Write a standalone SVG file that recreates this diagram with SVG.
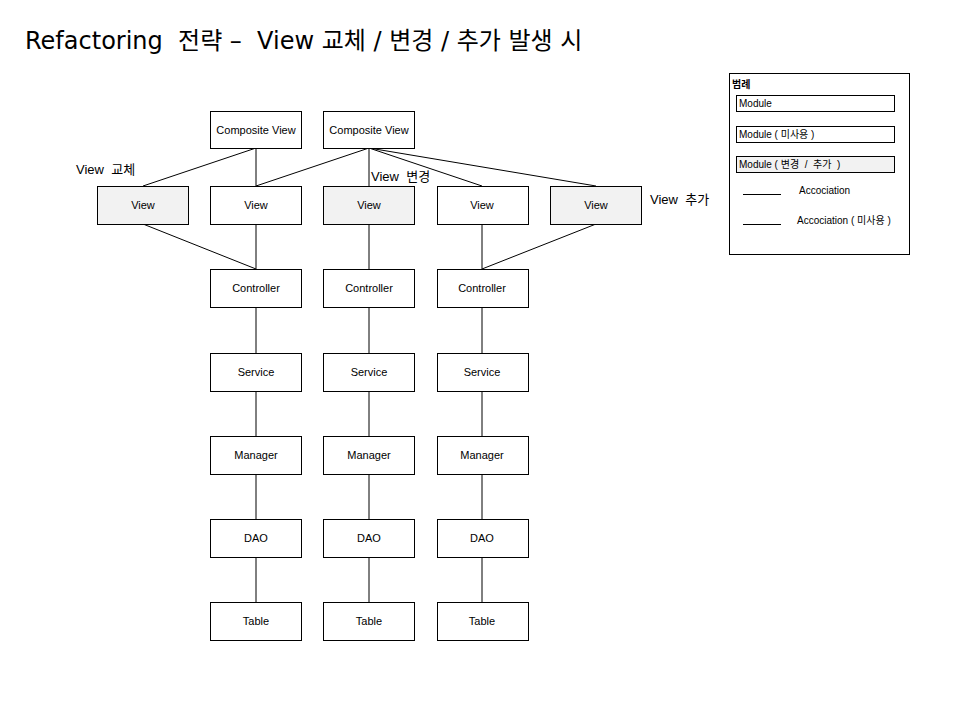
<svg xmlns="http://www.w3.org/2000/svg" width="960" height="720" viewBox="0 0 960 720">
<style>
text{white-space:pre}
.n rect{fill:#fff;stroke:#000;stroke-width:1}
.g rect{fill:#f2f2f2}
.n text{font-family:"Liberation Sans",Arial,sans-serif;font-size:11px;text-anchor:middle;fill:#000}
.lbl{font-family:"Liberation Sans","Noto Sans CJK KR",sans-serif;font-size:13px;fill:#000}
.c line{stroke:#000;stroke-width:1}
.lg{font-family:"Liberation Sans","Noto Sans CJK KR",sans-serif;font-size:10px;fill:#000}
</style>
<rect width="960" height="720" fill="#fff"/>
<text x="25" y="49" font-family="'DejaVu Sans','Noto Sans CJK KR',sans-serif" font-size="24" fill="#000">Refactoring &#160;전략 – &#160;View 교체 / 변경 / 추가 발생 시</text>
<g class="c">
<line x1="256" y1="148" x2="143" y2="186"/>
<line x1="256" y1="148" x2="256" y2="186"/>
<line x1="369" y1="148" x2="256" y2="186"/>
<line x1="369" y1="148" x2="369" y2="186"/>
<line x1="369" y1="148" x2="482" y2="186"/>
<line x1="369" y1="148" x2="596" y2="186"/>
<line x1="143" y1="224" x2="256" y2="269"/>
<line x1="256" y1="224" x2="256" y2="269"/>
<line x1="369" y1="224" x2="369" y2="269"/>
<line x1="482" y1="224" x2="482" y2="269"/>
<line x1="596" y1="224" x2="482" y2="269"/>
<line x1="256" y1="307" x2="256" y2="353"/>
<line x1="369" y1="307" x2="369" y2="353"/>
<line x1="482" y1="307" x2="482" y2="353"/>
<line x1="256" y1="391" x2="256" y2="436"/>
<line x1="369" y1="391" x2="369" y2="436"/>
<line x1="482" y1="391" x2="482" y2="436"/>
<line x1="256" y1="474" x2="256" y2="519"/>
<line x1="369" y1="474" x2="369" y2="519"/>
<line x1="482" y1="474" x2="482" y2="519"/>
<line x1="256" y1="557" x2="256" y2="602"/>
<line x1="369" y1="557" x2="369" y2="602"/>
<line x1="482" y1="557" x2="482" y2="602"/>
</g>
<g id="cv1" class="n"><rect x="210.5" y="111.5" width="91" height="37"/><text x="256" y="134">Composite View</text></g>
<g id="cv2" class="n"><rect x="323.5" y="111.5" width="91" height="37"/><text x="369" y="134">Composite View</text></g>
<g id="v1" class="n g"><rect x="97.5" y="186.5" width="91" height="38"/><text x="143" y="209">View</text></g>
<g id="v2" class="n"><rect x="210.5" y="186.5" width="91" height="38"/><text x="256" y="209">View</text></g>
<g id="v3" class="n g"><rect x="323.5" y="186.5" width="91" height="38"/><text x="369" y="209">View</text></g>
<g id="v4" class="n"><rect x="437.5" y="186.5" width="91" height="38"/><text x="482" y="209">View</text></g>
<g id="v5" class="n g"><rect x="550.5" y="186.5" width="91" height="38"/><text x="596" y="209">View</text></g>
<g id="c1" class="n"><rect x="210.5" y="269.5" width="91" height="38"/><text x="256" y="292">Controller</text></g>
<g id="c2" class="n"><rect x="323.5" y="269.5" width="91" height="38"/><text x="369" y="292">Controller</text></g>
<g id="c3" class="n"><rect x="437.5" y="269.5" width="91" height="38"/><text x="482" y="292">Controller</text></g>
<g id="s1" class="n"><rect x="210.5" y="353.5" width="91" height="38"/><text x="256" y="376">Service</text></g>
<g id="s2" class="n"><rect x="323.5" y="353.5" width="91" height="38"/><text x="369" y="376">Service</text></g>
<g id="s3" class="n"><rect x="437.5" y="353.5" width="91" height="38"/><text x="482" y="376">Service</text></g>
<g id="m1" class="n"><rect x="210.5" y="436.5" width="91" height="38"/><text x="256" y="459">Manager</text></g>
<g id="m2" class="n"><rect x="323.5" y="436.5" width="91" height="38"/><text x="369" y="459">Manager</text></g>
<g id="m3" class="n"><rect x="437.5" y="436.5" width="91" height="38"/><text x="482" y="459">Manager</text></g>
<g id="d1" class="n"><rect x="210.5" y="519.5" width="91" height="38"/><text x="256" y="542">DAO</text></g>
<g id="d2" class="n"><rect x="323.5" y="519.5" width="91" height="38"/><text x="369" y="542">DAO</text></g>
<g id="d3" class="n"><rect x="437.5" y="519.5" width="91" height="38"/><text x="482" y="542">DAO</text></g>
<g id="t1" class="n"><rect x="210.5" y="602.5" width="91" height="38"/><text x="256" y="625">Table</text></g>
<g id="t2" class="n"><rect x="323.5" y="602.5" width="91" height="38"/><text x="369" y="625">Table</text></g>
<g id="t3" class="n"><rect x="437.5" y="602.5" width="91" height="38"/><text x="482" y="625">Table</text></g>
<text class="lbl" x="76" y="174">View &#160;교체</text>
<text class="lbl" x="371" y="181">View &#160;변경</text>
<text class="lbl" x="650" y="204">View &#160;추가</text>
<g id="legend">
<rect x="729.5" y="73.5" width="180" height="181" fill="#fff" stroke="#000"/>
<text class="lg" x="732" y="88" font-weight="bold" font-size="11">범례</text>
<rect x="736.5" y="95.5" width="158" height="16" fill="#fff" stroke="#000"/>
<text class="lg" x="739" y="107">Module</text>
<rect x="736.5" y="126.5" width="158" height="16" fill="#fff" stroke="#000"/>
<text class="lg" x="739" y="138">Module ( 미사용 )</text>
<rect x="736.5" y="156.5" width="158" height="16" fill="#f2f2f2" stroke="#000"/>
<text class="lg" x="739" y="168">Module ( 변경 &#160;/ &#160;추가 &#160;)</text>
<line x1="743" y1="194.5" x2="781" y2="194.5" stroke="#000"/>
<text class="lg" x="799" y="194">Accociation</text>
<line x1="743" y1="224.5" x2="781" y2="224.5" stroke="#000"/>
<text class="lg" x="797" y="224">Accociation ( 미사용 )</text>
</g>
</svg>
